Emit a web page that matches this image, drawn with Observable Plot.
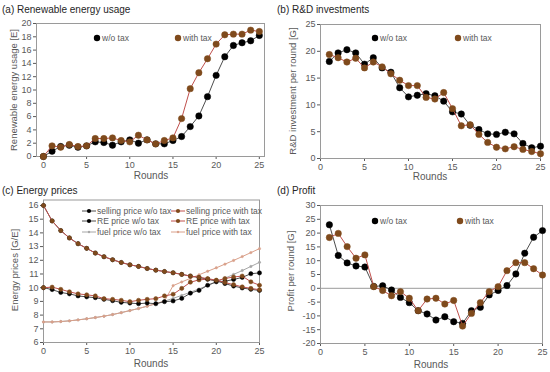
<!DOCTYPE html>
<html><head><meta charset="utf-8">
<script src="https://cdn.jsdelivr.net/npm/d3@7"></script>
<script src="https://cdn.jsdelivr.net/npm/@observablehq/plot@0.6"></script>
<style>
body{margin:0;background:#fff;font-family:"Liberation Sans",Arial,sans-serif;}
#wrap{position:relative;width:550px;height:372px;overflow:hidden;background:#fff;}
.t{position:absolute;font-size:10px;color:#262626;white-space:nowrap;line-height:12px;}
.xl{position:absolute;font-size:10px;color:#595959;transform:translate(-50%,-50%);white-space:nowrap;}
.yl{position:absolute;font-size:9.5px;color:#595959;transform:translate(-50%,-50%) rotate(-90deg);white-space:nowrap;}
.lg{position:absolute;font-size:8.5px;color:#595959;white-space:nowrap;transform:translateY(-50%);line-height:10px;}
.mk{position:absolute;}
</style>
</head><body><div id="wrap"></div>
<script>
// ---------- data ----------
const rounds0 = [0,1,2,3,4,5,6,7,8,9,10,11,12,13,14,15,16,17,18,19,20,21,22,23,24,25];
const rounds1 = [1,2,3,4,5,6,7,8,9,10,11,12,13,14,15,16,17,18,19,20,21,22,23,24,25];

// (a) Renewable energy usage [E]
const reUseWo   = [0,0.8,1.5,1.7,1.4,1.6,2.2,2.1,1.7,2.2,2.5,2.0,2.5,1.9,1.9,2.4,3.0,4.5,6.1,9.0,12.2,15.0,16.7,17.1,17.4,18.2];
const reUseWith = [0,1.6,1.4,1.8,1.5,1.6,2.7,2.7,2.8,2.4,2.2,3.2,2.5,1.9,2.4,2.8,5.7,10.2,12.6,14.7,16.9,18.3,18.4,18.4,19.0,18.8];

// (b) R&D investment per round [G]
const rdWo   = [18.1,19.7,20.3,19.7,17.6,18.8,16.9,16.1,13.2,11.5,11.8,12.1,11.7,10.7,8.7,8.3,6.2,5.4,4.6,4.5,4.9,4.6,2.8,2.0,2.3];
const rdWith = [19.4,18.8,18.0,18.7,16.9,18.0,17.1,15.8,14.6,13.6,13.6,11.4,11.1,12.3,9.3,6.1,6.3,4.5,3.0,2.1,1.8,2.2,1.7,1.3,0.9];

// (c) Energy prices [G/E]
const sellWo   = [16,14.87,14.17,13.63,13.21,12.87,12.53,12.26,12.04,11.84,11.67,11.55,11.4,11.28,11.18,11.09,10.97,10.85,10.74,10.62,10.5,10.3,10.12,9.98,9.88,9.8];
const sellWith = [16,14.87,14.17,13.63,13.21,12.87,12.53,12.26,12.04,11.84,11.67,11.55,11.4,11.28,11.18,11.09,10.97,10.85,10.76,10.66,10.55,10.38,10.22,10.06,9.95,9.85];
const rePriceWo   = [10.0,9.86,9.65,9.55,9.4,9.33,9.27,9.15,9.05,8.93,8.88,8.83,8.88,8.83,8.98,9.03,9.22,9.6,9.8,10.18,10.43,10.47,10.6,10.75,11.02,11.08];
const rePriceWith = [10.0,10.04,9.88,9.7,9.55,9.48,9.4,9.2,9.15,9.08,8.98,9.08,9.15,9.2,9.4,9.52,9.95,10.4,10.57,10.62,10.5,10.67,10.78,10.85,10.43,10.18];
const fuelWo   = [7.5,7.5,7.53,7.58,7.65,7.73,7.82,7.92,8.04,8.18,8.33,8.48,8.65,8.83,9.02,9.22,9.44,9.67,9.91,10.16,10.42,10.69,10.97,11.25,11.55,11.85];
const fuelWith = [7.5,7.5,7.53,7.58,7.65,7.73,7.82,7.92,8.04,8.18,8.33,8.48,8.65,8.83,9.02,10.15,10.42,10.68,10.94,11.2,11.45,11.72,11.99,12.27,12.56,12.85];

// (d) Profit per round [G]
const profitWo   = [23.0,11.9,9.2,8.1,7.7,0.7,0.9,-0.6,-3.3,-5.2,-8.1,-9.3,-11.5,-10.3,-12.1,-12.7,-8.1,-6.9,-2.4,-0.8,1.0,5.2,12.7,18.5,20.9];
const profitWith = [18.4,19.9,15.1,10.9,12.1,0.6,-0.8,-2.7,-1.2,-3.6,-8.1,-3.9,-3.6,-5.7,-4.4,-13.7,-9.1,-5.2,-1.2,0.6,6.4,9.3,9.3,7.1,4.8];

// tick values
const xTicks = [0,5,10,15,20,25];
const yTicksA = [0,2,4,6,8,10,12,14,16,18,20];
const yTicksB = [0,5,10,15,20,25];
const yTicksC = [6,7,8,9,10,11,12,13,14,15,16];
const yTicksD = [-20,-15,-10,-5,0,5,10,15,20,25,30];

// ---------- styling ----------
const FONT = '"Liberation Sans", Arial, sans-serif';
const BLACK = "#000000", LINE_WO = "#4d4d4d";
const BROWN = "#7f4a1c", LINE_WITH = "#c0504d";
const FUEL_WO = "#a6a6a6", FUEL_WITH = "#d9a08a";

const wrap = document.getElementById("wrap");

function series(xs, ys) { return xs.map((x, i) => ({x, y: ys[i]})); }
function lineDots(data, lineColor, dotColor, r, sym) {
  return [
    Plot.line(data, {x: "x", y: "y", stroke: lineColor, strokeWidth: 1}),
    Plot.dot(data, {x: "x", y: "y", r, fill: dotColor, stroke: dotColor, strokeWidth: 0.5, symbol: sym || "circle"})
  ];
}

function panel(cfg) {
  const svg = Plot.plot({
    width: cfg.w, height: cfg.h,
    marginLeft: cfg.ml, marginRight: cfg.mr, marginTop: cfg.mt, marginBottom: cfg.mb,
    style: {fontFamily: FONT, fontSize: "9px", color: "#595959", background: "transparent", overflow: "visible"},
    x: {domain: cfg.xd, ticks: xTicks, tickSize: 3, tickPadding: 2, label: null, tickFormat: d => String(d)},
    y: {domain: cfg.yd, ticks: cfg.yt, tickSize: 3, tickPadding: 2, label: null, tickFormat: d => String(d)},
    marks: [...(cfg.pre || []), Plot.frame({stroke: "#9a9a9a"}), ...cfg.marks]
  });
  svg.style.position = "absolute";
  svg.style.left = cfg.left + "px";
  svg.style.top = cfg.top + "px";
  wrap.appendChild(svg);
}

function text(cls, str, x, y) {
  const d = document.createElement("div");
  d.className = cls; d.textContent = str;
  d.style.left = x + "px"; d.style.top = y + "px";
  wrap.appendChild(d);
}
function legendItem(x, y, color, lineColor, label, r, withLine) {
  const s = document.createElementNS("http://www.w3.org/2000/svg", "svg");
  const w = withLine ? 14 : 8;
  s.setAttribute("width", w); s.setAttribute("height", 8);
  s.setAttribute("class", "mk");
  s.style.left = (x - w / 2) + "px"; s.style.top = (y - 4) + "px";
  s.innerHTML = (withLine ? `<line x1="0" y1="4" x2="${w}" y2="4" stroke="${lineColor}" stroke-width="1"/>` : "") +
    `<circle cx="${w / 2}" cy="4" r="${r}" fill="${color}"/>`;
  wrap.appendChild(s);
  text("lg", label, x + (withLine ? 8 : 5), y);
}

// ---------- (a) ----------
panel({left: 0, top: 0, w: 275, h: 186, ml: 36, mr: 11, mt: 23, mb: 30,
  xd: [-0.8, 25.6], yd: [0, 20], yt: yTicksA,
  marks: [
    ...lineDots(series(rounds0, reUseWo), LINE_WO, BLACK, 3.2),
    ...lineDots(series(rounds0, reUseWith), LINE_WITH, BROWN, 3.2)
  ]});
text("t", "(a) Renewable energy usage", 2, 4);
text("xl", "Rounds", 151, 175);
text("yl", "Renewable energy usage [E]", 13, 90);
legendItem(97, 38, BLACK, LINE_WO, "w/o tax", 3.2, false);
legendItem(178, 38, BROWN, LINE_WITH, "with tax", 3.2, false);

// ---------- (b) ----------
panel({left: 275, top: 0, w: 275, h: 186, ml: 45, mr: 10, mt: 24, mb: 28,
  xd: [0, 25], yd: [0, 25], yt: yTicksB,
  marks: [
    ...lineDots(series(rounds1, rdWo), LINE_WO, BLACK, 3.2),
    ...lineDots(series(rounds1, rdWith), LINE_WITH, BROWN, 3.2)
  ]});
text("t", "(b) R&D investments", 277, 4);
text("xl", "Rounds", 430, 176);
text("yl", "R&D investment per round [G]", 292, 91);
legendItem(375, 38, BLACK, LINE_WO, "w/o tax", 3.2, false);
legendItem(458, 38, BROWN, LINE_WITH, "with tax", 3.2, false);

// ---------- (c) ----------
panel({left: 0, top: 186, w: 275, h: 186, ml: 43, mr: 16, mt: 13.5, mb: 30,
  xd: [0, 25], yd: [6, 16.4], yt: yTicksC,
  marks: [
    ...lineDots(series(rounds0, fuelWo), FUEL_WO, FUEL_WO, 1.2),
    ...lineDots(series(rounds0, fuelWith), FUEL_WITH, FUEL_WITH, 1.2),
    ...lineDots(series(rounds0, rePriceWo), LINE_WO, BLACK, 2.1),
    ...lineDots(series(rounds0, rePriceWith), LINE_WITH, BROWN, 2.1),
    ...lineDots(series(rounds0, sellWo), LINE_WO, BLACK, 2.1),
    ...lineDots(series(rounds0, sellWith), LINE_WITH, BROWN, 2.1)
  ]});
text("t", "(c) Energy prices", 2, 185);
text("xl", "Rounds", 151, 363);
text("yl", "Energy prices [G/E]", 14, 270);
legendItem(89, 211, BLACK, LINE_WO, "selling price w/o tax", 2.1, true);
legendItem(89, 221, BLACK, LINE_WO, "RE price w/o tax", 2.1, true);
legendItem(89, 232, FUEL_WO, FUEL_WO, "fuel price w/o tax", 1.2, true);
legendItem(178, 211, BROWN, LINE_WITH, "selling price with tax", 2.1, true);
legendItem(178, 221, BROWN, LINE_WITH, "RE price with tax", 2.1, true);
legendItem(178, 232, FUEL_WITH, FUEL_WITH, "fuel price with tax", 1.2, true);

// ---------- (d) ----------
panel({left: 275, top: 186, w: 275, h: 186, ml: 45, mr: 8, mt: 19, mb: 29,
  xd: [0, 25], yd: [-20, 30], yt: yTicksD,
  pre: [Plot.ruleY([0], {stroke: "#9a9a9a", strokeWidth: 1})],
  marks: [
    ...lineDots(series(rounds1, profitWo), LINE_WO, BLACK, 3.2),
    ...lineDots(series(rounds1, profitWith), LINE_WITH, BROWN, 3.2)
  ]});
text("t", "(d) Profit", 277, 185);
text("xl", "Rounds", 431, 364);
text("yl", "Profit per round [G]", 290, 271);
legendItem(375, 221, BLACK, LINE_WO, "w/o tax", 3.2, false);
legendItem(460, 221, BROWN, LINE_WITH, "with tax", 3.2, false);
</script>
</body></html>
